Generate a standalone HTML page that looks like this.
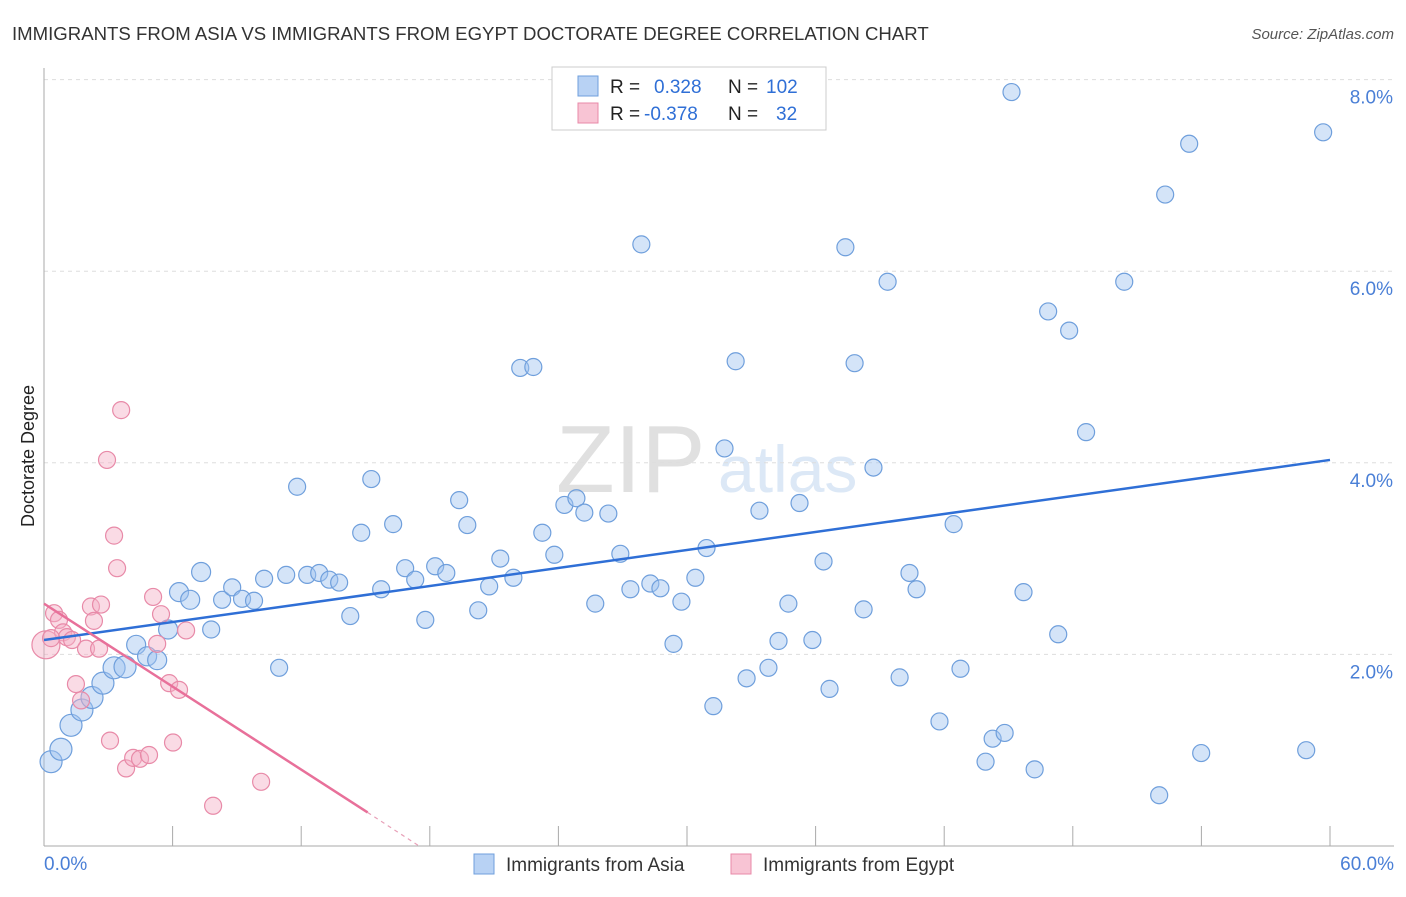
<!DOCTYPE html>
<html><head><meta charset="utf-8"><style>
body{margin:0;background:#fff;font-family:"Liberation Sans",sans-serif;}
svg text{font-family:"Liberation Sans",sans-serif;}
</style></head><body>
<svg width="1406" height="892" xmlns="http://www.w3.org/2000/svg">
<text x="12" y="40" font-size="18.6" fill="#333">IMMIGRANTS FROM ASIA VS IMMIGRANTS FROM EGYPT DOCTORATE DEGREE CORRELATION CHART</text>
<text x="1394" y="39" font-size="15" fill="#555" font-style="italic" text-anchor="end">Source: ZipAtlas.com</text>
<text x="34" y="456" font-size="18" fill="#222" text-anchor="middle" transform="rotate(-90 34 456)">Doctorate Degree</text>
<text x="556" y="492" font-size="96" fill="#e0e0e0" font-family="Liberation Serif">ZIP</text>
<text x="718" y="492" font-size="66" fill="#dce8f6">atlas</text>
<g id="grid"></g>
<line x1="44" y1="68" x2="44" y2="846" stroke="#aaa"/>
<line x1="44" y1="846" x2="1394" y2="846" stroke="#aaa"/>
<g id="xticks"></g>
<g id="pts"></g>
<g id="trends"></g>
<g>
<rect x="552" y="67" width="274" height="63" fill="#fff" stroke="#ccc"/>
<rect x="578" y="76" width="20" height="20" fill="#b8d2f4" stroke="#6f9fdc"/>
<rect x="578" y="103" width="20" height="20" fill="#f8c4d4" stroke="#e88aa8"/>
<text x="610" y="93" font-size="19" fill="#222">R = <tspan fill="#2f6fd6" x="654">0.328</tspan><tspan x="728" fill="#222">N = </tspan><tspan fill="#2f6fd6" x="766">102</tspan></text>
<text x="610" y="120" font-size="19" fill="#222">R = <tspan fill="#2f6fd6" x="644">-0.378</tspan><tspan x="728" fill="#222">N = </tspan><tspan fill="#2f6fd6" x="776">32</tspan></text>
</g>
<g>
<rect x="474" y="854" width="20" height="20" fill="#b8d2f4" stroke="#6f9fdc"/>
<text x="506" y="871" font-size="19" fill="#333">Immigrants from Asia</text>
<rect x="731" y="854" width="20" height="20" fill="#f8c4d4" stroke="#e88aa8"/>
<text x="763" y="871" font-size="19" fill="#333">Immigrants from Egypt</text>
</g>
<text x="44" y="870" font-size="19" fill="#4a7fd6">0.0%</text>
<text x="1394" y="870" font-size="19" fill="#4a7fd6" text-anchor="end">60.0%</text>
</svg>
<script>
const yTicks=[2,4,6,8];
const yTickLabels=["2.0%","4.0%","6.0%","8.0%"];
const asiaX=[0.33,0.79,1.26,1.77,2.24,2.75,3.27,3.78,4.3,4.81,5.28,5.79,6.3,6.82,7.33,7.8,8.31,8.78,9.24,9.8,10.27,10.97,11.3,11.81,12.28,12.84,13.31,13.77,14.29,14.8,15.27,15.73,16.29,16.85,17.32,17.79,18.25,18.77,19.37,19.75,20.26,20.77,21.29,21.9,22.22,22.83,23.25,23.81,24.28,24.84,25.21,25.72,26.33,26.89,27.36,27.87,28.29,28.76,29.37,29.74,30.39,30.91,31.23,31.75,32.27,32.78,33.38,33.8,34.27,34.73,35.25,35.85,36.37,36.65,37.39,37.82,38.24,38.7,39.36,39.92,40.38,40.71,41.78,42.44,42.76,43.93,44.26,44.82,45.14,45.7,46.22,46.85,47.32,47.83,48.62,50.4,52.03,52.31,53.43,53.99,58.89,59.68];
const asiaY=[0.88,1.01,1.26,1.42,1.55,1.7,1.86,1.87,2.1,1.98,1.94,2.26,2.65,2.57,2.86,2.26,2.57,2.7,2.58,2.56,2.79,1.86,2.83,3.75,2.83,2.85,2.78,2.75,2.4,3.27,3.83,2.68,3.36,2.9,2.78,2.36,2.92,2.85,3.61,3.35,2.46,2.71,3.0,2.8,4.99,5.0,3.27,3.04,3.56,3.63,3.48,2.53,3.47,3.05,2.68,6.28,2.74,2.69,2.11,2.55,2.8,3.11,1.46,4.15,5.06,1.75,3.5,1.86,2.14,2.53,3.58,2.15,2.97,1.64,6.25,5.04,2.47,3.95,5.89,1.76,2.85,2.68,1.3,3.36,1.85,0.88,1.12,1.18,7.87,2.65,0.8,5.58,2.21,5.38,4.32,5.89,0.53,6.8,7.33,0.97,1.0,7.45];
const egyptX=[0.09,0.47,0.7,0.89,1.07,1.31,1.49,1.73,1.96,2.19,2.33,2.57,2.66,2.94,3.08,3.27,3.41,3.6,3.83,4.16,4.48,4.9,5.09,5.28,5.46,5.84,6.02,6.3,6.63,7.89,10.13,0.33];
const egyptY=[2.1,2.43,2.36,2.23,2.18,2.15,1.69,1.52,2.06,2.5,2.35,2.06,2.52,4.03,1.1,3.24,2.9,4.55,0.81,0.92,0.91,0.95,2.6,2.11,2.42,1.7,1.08,1.63,2.25,0.42,0.67,2.17];
const asiaTrend=[0,2.15,60,4.03];
const egyptTrend=[0,2.53,15.1,0.35,17.5,0.0];
const X=v=>44+v*(1330-44)/60;
const Y=v=>846-v*95.8;
const NS="http://www.w3.org/2000/svg";
function mk(t,a,p){const e=document.createElementNS(NS,t);for(const k in a)e.setAttribute(k,a[k]);p.appendChild(e);return e;}
const grid=document.getElementById('grid');
yTicks.forEach((t,i)=>{
 const l=mk('line',{x1:44,x2:1394,y1:Y(t),y2:Y(t),stroke:'#ddd','stroke-dasharray':'4,4'},grid);
 
 
 const tx=mk('text',{x:1393,y:Y(t)+24,'font-size':19,fill:'#4a7fd6','text-anchor':'end'},grid);
 tx.textContent=yTickLabels[i];
 
 
});
const xt=document.getElementById('xticks');
for(let i=1;i<=10;i++){const l=mk('line',{x1:X(i*6),x2:X(i*6),y1:826,y2:846,stroke:'#aaa'},xt);
 
 }
const pts=document.getElementById('pts');
asiaX.forEach((x,i)=>{const r=i<8?11:(i<15?9.5:8.5);
 const c=mk('circle',{cx:X(x),cy:Y(asiaY[i]),r:r,fill:'rgba(160,196,240,0.45)',stroke:'#6f9fdc','stroke-width':1.2},pts);
 
 });
egyptX.forEach((x,i)=>{const r=i==0?14:8.5;
 const c=mk('circle',{cx:X(x),cy:Y(egyptY[i]),r:r,fill:'rgba(245,175,198,0.45)',stroke:'#e88aa8','stroke-width':1.2},pts);
 
 });
const tr=document.getElementById('trends');
const a=mk('line',{x1:X(asiaTrend[0]),y1:Y(asiaTrend[1]),x2:X(asiaTrend[2]),y2:Y(asiaTrend[3]),stroke:'#2f6fd6','stroke-width':2.5},tr);


const e=mk('line',{x1:X(egyptTrend[0]),y1:Y(egyptTrend[1]),x2:X(egyptTrend[2]),y2:Y(egyptTrend[3]),stroke:'#e8709a','stroke-width':2.5},tr);


const ed=mk('line',{x1:X(egyptTrend[2]),y1:Y(egyptTrend[3]),x2:X(egyptTrend[4]),y2:Y(egyptTrend[5]),stroke:'#e8a0b8','stroke-width':1.2,'stroke-dasharray':'4,4'},tr);


</script>
</body></html>
